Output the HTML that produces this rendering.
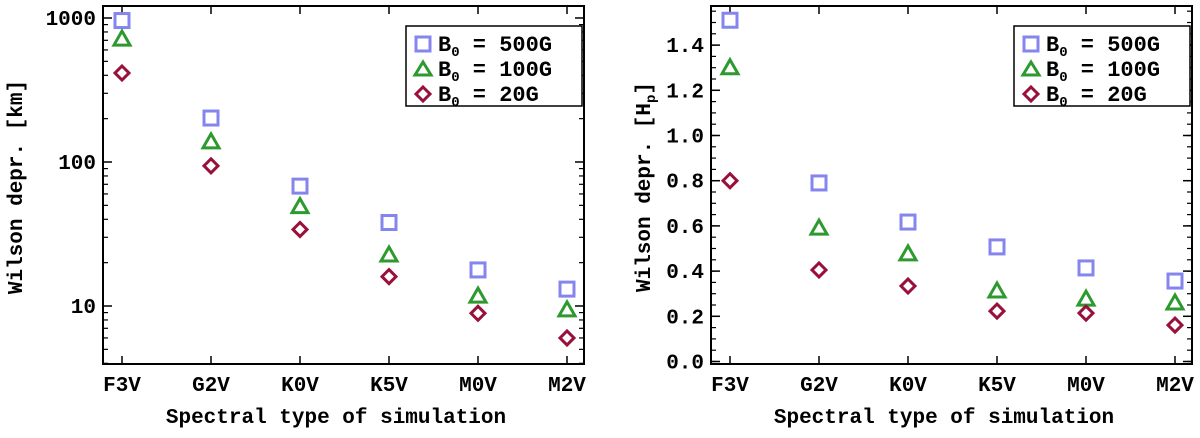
<!DOCTYPE html>
<html><head><meta charset="utf-8"><style>
html,body{margin:0;padding:0;background:#fff;}
svg text{font-family:"Liberation Mono",monospace;fill:#000;font-weight:bold;}
</style></head><body>
<svg id="c" width="1200" height="433" xmlns="http://www.w3.org/2000/svg"></svg>
<script>
const categories = ["F3V","G2V","K0V","K5V","M0V","M2V"];
const seriesNames = ["500G","100G","20G"];
const leftSq = [960,202,68,38,17.8,13.1];
const leftTri = [714,138,49,22.6,11.7,9.4];
const leftDia = [415,94,34,16,8.9,6.0];
const rightSq = [1.51,0.79,0.617,0.507,0.414,0.356];
const rightTri = [1.30,0.59,0.476,0.312,0.276,0.259];
const rightDia = [0.80,0.405,0.334,0.223,0.214,0.161];
const leftTicks = ["10","100","1000"];
const rightTicks = ["0.0","0.2","0.4","0.6","0.8","1.0","1.2","1.4"];

const NS="http://www.w3.org/2000/svg";
const svg=document.getElementById('c');
function mk(tag,attrs,parent){const e=document.createElementNS(NS,tag);for(const k in attrs)e.setAttribute(k,attrs[k]);(parent||svg).appendChild(e);return e;}
const colors=["#8585ee","#2e992e","#99103a"];

function panel(ox,name,yFn,ticks,tickVals,minorVals,ytitle,series){
  const g=mk('g',{});
  
  
  const L=ox+103,R=ox+584,T=6,B=364;
  const xFn=i=>ox+122+i*89;
  const box=mk('rect',{x:L,y:T,width:R-L,height:B-T,fill:'none',stroke:'#000','stroke-width':2},g);
  
  
  categories.forEach((c,i)=>{
    const x=xFn(i);
    mk('line',{x1:x,x2:x,y1:B,y2:B-8,stroke:'#000','stroke-width':1.5},g);
    mk('line',{x1:x,x2:x,y1:T,y2:T+8,stroke:'#000','stroke-width':1.5},g);
    const t=mk('text',{x:x,y:391,'font-size':21,'text-anchor':'middle'},g);
    t.textContent=c;
    
    
  });
  tickVals.forEach((v,i)=>{
    const y=yFn(v);
    mk('line',{x1:L,x2:L+9,y1:y,y2:y,stroke:'#000','stroke-width':1.5},g);
    mk('line',{x1:R,x2:R-9,y1:y,y2:y,stroke:'#000','stroke-width':1.5},g);
    const t=mk('text',{x:L-7,y:y+7,'font-size':21,'text-anchor':'end'},g);
    t.textContent=ticks[i];
    
    
  });
  minorVals.forEach(v=>{
    const y=yFn(v);
    if(y<T||y>B)return;
    mk('line',{x1:L,x2:L+5,y1:y,y2:y,stroke:'#000','stroke-width':1.2},g);
    mk('line',{x1:R,x2:R-5,y1:y,y2:y,stroke:'#000','stroke-width':1.2},g);
  });
  const xt=mk('text',{x:ox+336,y:423,'font-size':21,'text-anchor':'middle'},g);
  xt.textContent='Spectral type of simulation';
  
  
  const yt=mk('text',{transform:`translate(${ytitle.x},187) rotate(-90)`,'font-size':21,'text-anchor':'middle'},g);
  yt.innerHTML=ytitle.html;
  
  
  series.forEach((vals,s)=>{
    vals.forEach((v,i)=>{
      const x=xFn(i),y=yFn(v);
      let m;
      if(s===0)m=mk('rect',{x:x-7,y:y-7,width:14,height:14,fill:'none',stroke:colors[0],'stroke-width':3},g);
      else if(s===1)m=mk('polygon',{points:`${x},${y-8} ${x+8},${y+6} ${x-8},${y+6}`,fill:'none',stroke:colors[1],'stroke-width':3},g);
      else m=mk('polygon',{points:`${x},${y-7} ${x+7},${y} ${x},${y+7} ${x-7},${y}`,fill:'none',stroke:colors[2],'stroke-width':3},g);
      
      
    });
  });
  const lg=mk('g',{},g);
  
  
  mk('rect',{x:ox+406,y:26,width:176,height:80,fill:'#fff',stroke:'#000','stroke-width':1.5},lg);
  seriesNames.forEach((n,s)=>{
    const y=44+s*25;const x=ox+423;
    if(s===0)mk('rect',{x:x-7,y:y-7,width:14,height:14,fill:'none',stroke:colors[0],'stroke-width':3},lg);
    else if(s===1)mk('polygon',{points:`${x},${y-7} ${x+8},${y+6} ${x-8},${y+6}`,fill:'none',stroke:colors[1],'stroke-width':3},lg);
    else mk('polygon',{points:`${x},${y-7} ${x+7},${y} ${x},${y+7} ${x-7},${y}`,fill:'none',stroke:colors[2],'stroke-width':3},lg);
    const t=mk('text',{x:ox+438,y:y+7,'font-size':22},lg);
    t.innerHTML='B<tspan font-size="14" dy="5">0</tspan><tspan dy="-5"> = '+n+'</tspan>';
    
    
  });
}

const yLog=v=>306-(Math.log10(v)-1)*144;
const minorL=[];
for(let d=1;d<=1000;d*=10)for(let k=2;k<=9;k++)minorL.push(k*d);
panel(0,'left-panel',yLog,leftTicks,[10,100,1000],minorL,
  {x:22,html:'Wilson depr. [km]'},[leftSq,leftTri,leftDia]);

const yLin=v=>361.5-v*226;
const minorR=[];
for(let k=0;k<=31;k++)minorR.push(k*0.05);
panel(608,'right-panel',yLin,rightTicks,[0,0.2,0.4,0.6,0.8,1.0,1.2,1.4],minorR,
  {x:650,html:'Wilson depr. [H<tspan font-size="14" dy="5">p</tspan><tspan dy="-5">]</tspan>'},[rightSq,rightTri,rightDia]);
</script>
</body></html>
